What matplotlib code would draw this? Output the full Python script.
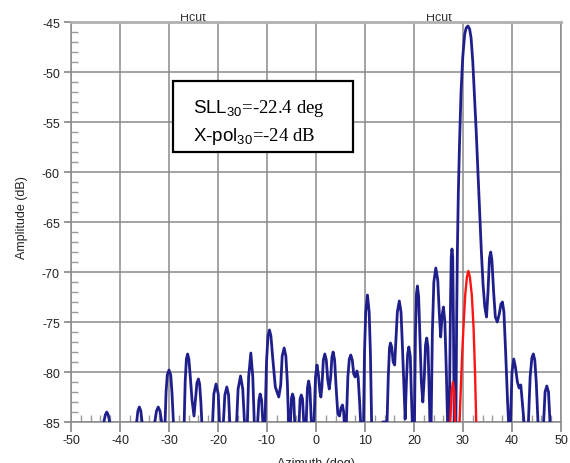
import numpy as np
import matplotlib
matplotlib.use('Agg')
import matplotlib.pyplot as plt
from matplotlib.patches import Rectangle
from matplotlib.ticker import MultipleLocator

plt.rcParams['font.family'] = ['Liberation Sans', 'DejaVu Sans']
plt.rcParams['mathtext.fontset'] = 'custom'
plt.rcParams['mathtext.sf'] = 'Liberation Sans'
plt.rcParams['mathtext.rm'] = 'Liberation Serif'
plt.rcParams['axes.unicode_minus'] = False

# co-pol cut (nulls put below the -85 floor)
az_co = [-50, -44.0, -43.3, -43.0, -42.7, -42.4, -42.1, -41.4,
         -37.2, -36.6, -36.35, -36.05, -35.75, -35.5, -34.9,
         -33.5, -32.9, -32.55, -32.2, -31.85, -31.5, -31.15,
         -30.8, -30.6, -30.35, -30.0, -29.65, -29.4, -29.1, -28.8,
         -27.2, -26.9, -26.7, -26.45, -26.2, -25.95, -25.65, -25.3, -24.9,
         -24.6, -24.3, -24.0, -23.75, -23.5, -23.3, -23.0,
         -21.5, -21.1, -20.85, -20.4, -19.95, -19.7, -19.45,
         -19.25, -18.9, -18.6, -18.2, -17.85, -17.6, -17.3,
         -16.5, -16.2, -15.9, -15.4, -14.95, -14.6, -14.3,
         -14.0, -13.75, -13.3, -12.9, -12.6, -12.3,
         -11.9, -11.65, -11.4, -11.1, -10.85, -10.6,
         -10.4, -10.1, -9.8, -9.5, -9.2, -8.85, -8.3, -7.6,
         -7.2, -6.9, -6.5, -6.15, -5.85, -5.6, -5.4,
         -5.2, -5.0, -4.8, -4.55, -4.35, -4.1,
         -3.75, -3.45, -3.25, -3.0, -2.75, -2.5, -2.25,
         -2.0, -1.75, -1.5, -1.25, -0.95, -0.7,
         -0.4, -0.1, 0.2, 0.5, 0.8, 1.0,
         1.2, 1.5, 1.8, 2.1, 2.4, 2.7,
         3.0, 3.25, 3.5, 3.8, 4.1, 4.45, 4.8, 5.1, 5.4, 5.65, 5.85, 6.0,
         6.2, 6.5, 6.8, 7.1, 7.4, 7.7, 8.0, 8.35, 8.6, 8.9, 9.1, 9.35,
         9.7, 9.9, 10.15, 10.5, 10.85, 11.1, 11.35, 11.6,
         13.3, 13.6, 14.5,
         14.75, 15.0, 15.2, 15.45, 15.75, 16.05,
         16.35, 16.6, 17.0, 17.35, 17.6, 17.9, 18.2,
         18.45, 18.7, 18.95, 19.25, 19.45, 19.65, 19.85,
         20.1, 20.3, 20.5, 20.7, 20.95, 21.2, 21.5, 21.8,
         22.1, 22.35, 22.6, 22.85, 23.05, 23.25, 23.4,
         23.5, 23.75, 24.05, 24.45, 24.85, 25.15, 25.45,
         25.7, 26.0, 26.3, 26.6, 26.85, 27.0,
         27.2, 27.45, 27.6, 27.75, 27.9, 28.05, 28.2, 28.35,
         28.55, 28.7, 28.85, 29.05, 29.3, 29.6, 29.95, 30.35, 30.65, 31.0,
         31.35, 31.65, 32.0, 32.35, 32.7, 33.05, 33.4, 33.75, 34.1, 34.45, 34.8,
         35.1, 35.4, 35.65, 35.9, 36.25, 36.6, 37.0,
         37.4, 37.75, 38.05, 38.35, 38.7, 39.1, 39.35, 39.5,
         39.7, 40.0, 40.35, 40.7, 41.1, 41.45, 41.8, 42.1, 42.45, 42.8,
         43.0, 43.35, 43.7, 44.05, 44.35, 44.65, 44.95, 45.3, 45.6,
         46.1, 46.45, 46.75, 47.1, 47.45, 47.75, 48.0, 50]
amp_co = [-92, -92, -85, -84.3, -84.0, -84.3, -85, -92,
          -92, -85, -83.9, -83.5, -83.9, -85, -92,
          -92, -85, -83.9, -83.5, -83.9, -85, -92,
          -85, -82, -80.3, -79.8, -80.3, -82, -85, -92,
          -92, -85, -81, -78.7, -78.2, -78.7, -80.5, -82.8, -84.4,
          -82.8, -81.1, -80.7, -81.2, -83, -85, -92,
          -92, -85, -82.2, -81.2, -82.2, -85, -92,
          -92, -85, -82.3, -81.5, -82.3, -85, -92,
          -92, -85, -81.7, -80.4, -81.7, -85, -92,
          -85, -80.5, -78.1, -80.5, -85, -92,
          -85, -82.8, -82.2, -82.8, -85, -92,
          -85, -79, -76.4, -75.8, -76.4, -78.5, -81.5, -82.5,
          -81.3, -78.4, -77.6, -78.4, -81, -85, -92,
          -85, -82.6, -82.2, -82.6, -85, -92,
          -92, -85, -82.7, -82.3, -82.7, -85, -92,
          -85, -81.6, -80.9, -81.6, -85, -92,
          -85, -80.5, -79.3, -80.3, -82, -82.5,
          -81.5, -78.8, -78.2, -78.8, -80.8, -81.7,
          -80.5, -78.5, -78.0, -78.8, -81.5, -84.2, -84.4, -83.6, -83.3, -84, -86, -92,
          -85, -80.5, -78.7, -78.3, -78.8, -80.2, -80.5, -79.9, -80.5, -83, -85, -92,
          -85, -78, -74, -72.3, -74, -78, -85, -92,
          -92, -85, -85,
          -80.5, -77.6, -77.1, -77.5, -79, -79.3,
          -76.5, -74, -72.9, -74, -77, -81, -84.7,
          -81, -78.2, -77.5, -78.5, -82, -85, -92,
          -85, -76, -72.2, -71.4, -72.5, -76.5, -81, -83,
          -80.5, -77.3, -76.6, -77.5, -81, -85, -92,
          -85, -76, -71, -69.6, -70.8, -74, -76.5,
          -74.5, -73.5, -75, -80, -85, -92,
          -85, -73, -68.5, -67.7, -68.5, -75, -85, -92,
          -85, -75, -68, -62, -57, -52, -48.5, -46.2, -45.6, -45.4,
          -45.7, -46.6, -49, -52.5, -56, -60, -64, -68, -71.3, -73.5, -74.5,
          -72, -68.6, -68.0, -68.8, -72, -74.5, -75.0,
          -74.2, -73.2, -73.0, -74, -78, -83, -85.5, -92,
          -85, -80, -78.7, -79.5, -81.0, -81.6, -81.3, -83, -85, -92,
          -92, -85, -80.5, -78.6, -78.2, -78.8, -81, -85, -92,
          -92, -85, -82, -81.4, -82, -85, -92, -92]

# cross-pol cut
az_x = [27.0, 27.4, 27.7, 27.95, 28.2, 28.4, 28.6,
        29.0, 29.3, 29.6, 29.85, 30.15, 30.45, 30.8, 31.1,
        31.4, 31.8, 32.15, 32.45, 32.7, 32.9]
amp_x = [-92, -85, -81.8, -81.0, -82, -85, -92,
         -92, -85, -81, -78, -75, -72.3, -70.5, -69.9,
         -70.5, -72.3, -75.5, -80, -85, -92]

x_ticks = list(range(-50, 51, 10))
y_ticks = list(range(-85, -44, 5))

fig = plt.figure(figsize=(5.7, 4.64), dpi=100)
ax = fig.add_axes([71/570, 41/464, 490/570, 400/464])

ax.plot(az_co, amp_co, color='#1f1f8c', lw=2.0, zorder=3)
ax.plot(az_x, amp_x, color='#ff1414', lw=1.7, zorder=4)

ax.set_xlim(-50, 50)
ax.set_ylim(-85, -45)
ax.set_xticks(x_ticks)
ax.set_yticks(y_ticks)
ax.xaxis.set_minor_locator(MultipleLocator(2))
ax.yaxis.set_minor_locator(MultipleLocator(1))
ax.grid(True, which='major', color='#8a8a8a', lw=1.1, zorder=1)
ax.tick_params(which='major', direction='out', color='#7a7a7a', width=1.1,
               labelsize=9, labelcolor='#222222')
ax.tick_params(axis='x', which='major', length=7, pad=2)
ax.tick_params(axis='y', which='major', length=5, pad=3)
ax.tick_params(which='minor', direction='in', length=5, color='#9a9a9a', width=1.0)
for s in ax.spines.values():
    s.set_color('#8a8a8a')
    s.set_linewidth(1.1)
ax.spines['top'].set_color('#b0b0b0')
ax.spines['top'].set_linewidth(2)

# annotation box
ax.add_patch(Rectangle((0.208, 0.675), 0.3675, 0.1775, transform=ax.transAxes,
                       facecolor='white', edgecolor='black', lw=1.6, zorder=5))
ax.text(0.249, 0.776, r'$\mathsf{SLL}_{\mathsf{30}}$=-22.4 deg', transform=ax.transAxes,
        family='Liberation Serif', fontsize=13.5, zorder=6, va='baseline')
ax.text(0.249, 0.706, r'$\mathsf{X}$-$\mathsf{pol}_{\mathsf{30}}$=-24 dB', transform=ax.transAxes,
        family='Liberation Serif', fontsize=13.5, zorder=6, va='baseline')

# titles, cut off at the top as in the source
fig.text(193/570, 1 - 21/464, 'Hcut', ha='center', va='baseline', fontsize=9, color='#333333')
fig.text(439/570, 1 - 21/464, 'Hcut', ha='center', va='baseline', fontsize=9, color='#333333')
fig.add_artist(Rectangle((0, 1 - 15/464), 1, 15/464, transform=fig.transFigure,
                         facecolor='white', edgecolor='none', zorder=10))

fig.text(21.7/570, 1 - 218/464, 'Amplitude (dB)', rotation=90, ha='center', va='center',
         fontsize=9, color='#222222')
fig.text(316/570, 6/464, 'Azimuth (deg)', ha='center', va='top', fontsize=9, color='#222222')

fig.savefig('out.png', dpi=100)
